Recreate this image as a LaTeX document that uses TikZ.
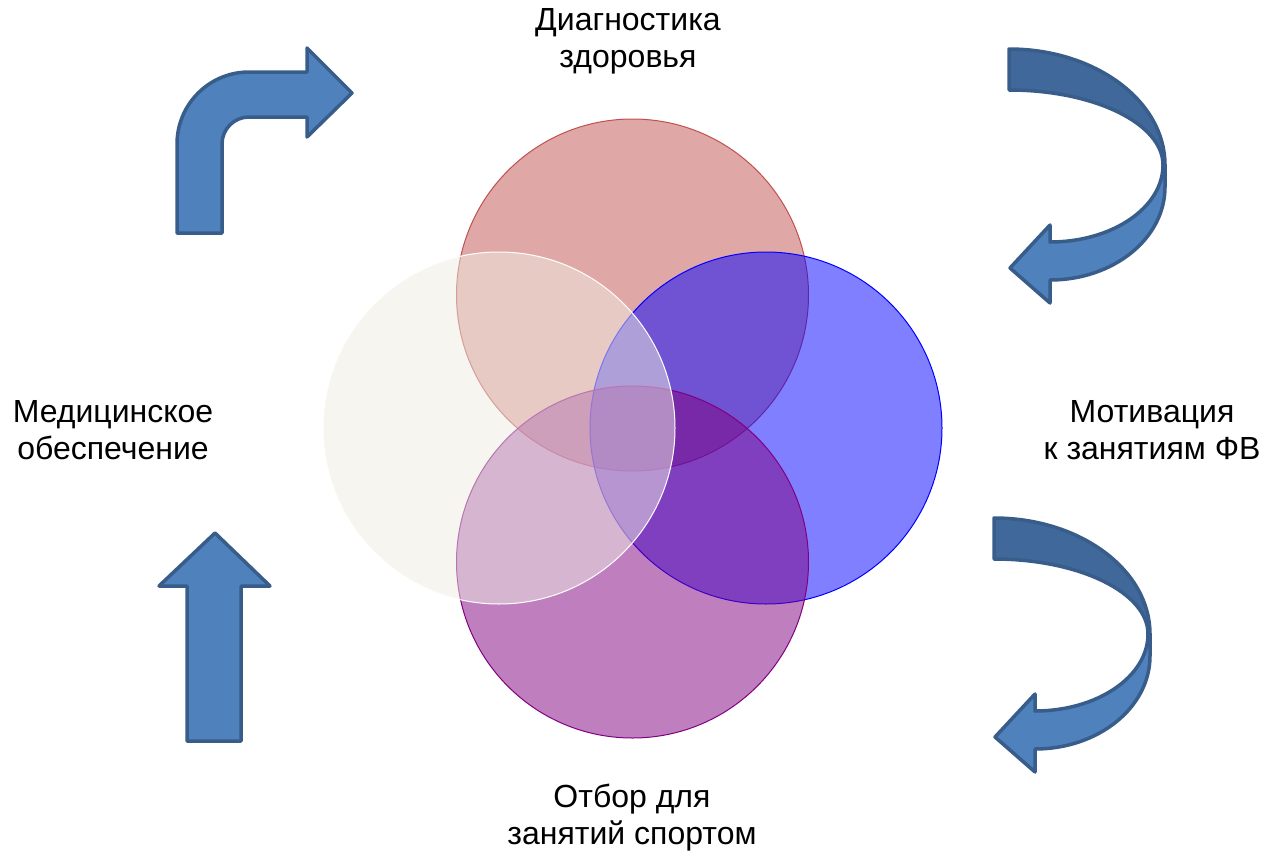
\documentclass[tikz,border=0pt]{standalone}
\usepackage{fontspec}
\setmainfont{Liberation Sans}
\definecolor{cRed}{HTML}{C0504D}
\definecolor{cBlue}{HTML}{0000FF}
\definecolor{cPurple}{HTML}{800080}
\definecolor{cBeige}{HTML}{EEECE1}
\definecolor{arrFill}{HTML}{4F81BD}
\definecolor{arrBack}{HTML}{41689A}
\definecolor{arrLine}{HTML}{385D8A}
\tikzset{
  venn/.style={fill opacity=0.5, line width=1pt},
  arrowshape/.style={fill=arrFill, draw=arrLine, line width=3.5pt, line join=round},
  backshape/.style={fill=arrBack, draw=arrLine, line width=3.5pt, line join=round},
  label/.style={align=center, font=\fontsize{32}{37}\selectfont, inner sep=0pt}
}
\begin{document}
\begin{tikzpicture}[x=1pt,y=-1pt]
\useasboundingbox (0,0) rectangle (1264,857);
% circles
\path[venn, fill=cRed, draw=cRed] (632.5,295) circle[radius=176];
\path[venn, fill=cBlue, draw=cBlue] (766,428) circle[radius=176];
\path[venn, fill=cPurple, draw=cPurple] (632.5,562) circle[radius=176];
\path[venn, fill=cBeige, draw=white] (499,428) circle[radius=176];
% bent arrow (top left)
\draw[arrowshape] (177,233) -- (177,144) arc[start angle=180,end angle=270,radius=72]
  -- (307,72) -- (307,48) -- (352,93) -- (307,137) -- (307,117) -- (249,117)
  arc[start angle=270,end angle=180,radius=27] -- (222,233) -- cycle;
% up arrow (bottom left)
\draw[arrowshape] (187,741) -- (187,586) -- (159,586) -- (215,533) -- (270,586)
  -- (241,586) -- (241,741) -- cycle;
% curved arrows (right)
\foreach \dx/\dy in {0/0,-15/469}{
\begin{scope}[shift={(\dx,\dy)}]
\draw[backshape] (1009,49) arc[start angle=270,end angle=360,x radius=156,y radius=116]
  -- (1163,165) arc[start angle=0,end angle=-90,x radius=154,y radius=75] -- cycle;
\draw[arrowshape] (1165,165) -- (1165,187)
  arc[start angle=0,end angle=90,x radius=115,y radius=93]
  -- (1050,303) -- (1010,268) -- (1050,225) -- (1050,242)
  arc[start angle=90,end angle=0,x radius=113,y radius=77] -- cycle;
\end{scope}
}
% labels
\node[label] (diag) at (628,41) {Диагностика\\здоровья};
\node[label] (med) at (113,430) {Медицинское\\обеспечение};
\node[label] (motiv) at (1152,430) {Мотивация\\к занятиям ФВ};
\node[label] (otbor) at (632,818) {Отбор для\\занятий спортом};
\end{tikzpicture}
\end{document}
